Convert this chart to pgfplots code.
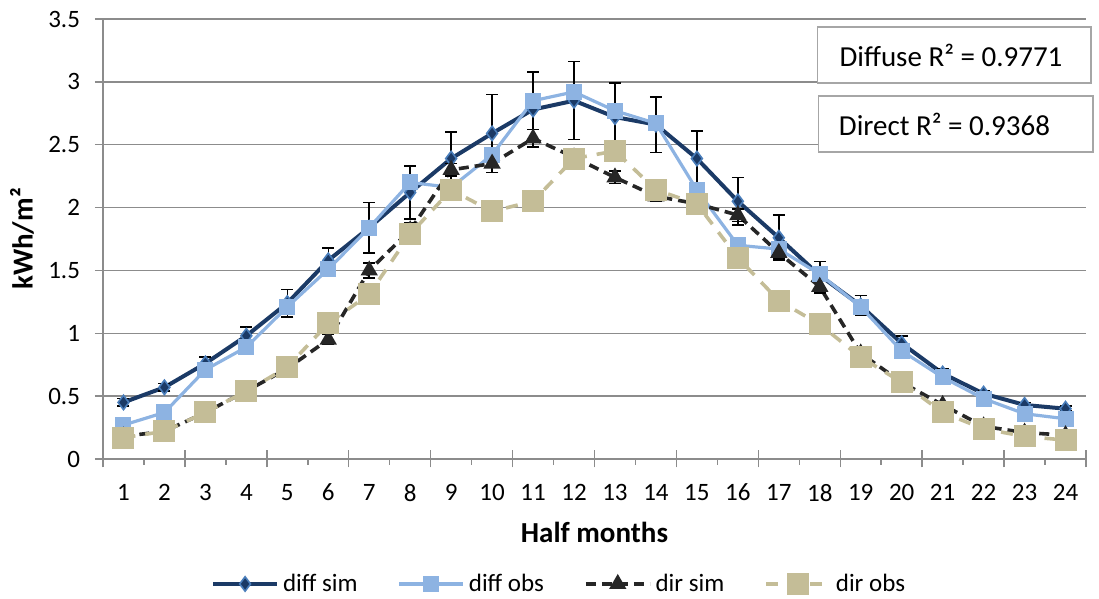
\documentclass[border=0pt]{standalone}
\usepackage{fontspec}
\setmainfont{Carlito}
\usepackage{pgfplots}
\usepackage{pgfplotstable}
\pgfplotsset{compat=1.18}
\definecolor{navy}{HTML}{1B3A66}
\definecolor{navyedge}{HTML}{4A7EBB}
\definecolor{lblue}{HTML}{8DB3E2}
\definecolor{tan}{HTML}{C4BD97}
\definecolor{dk}{HTML}{262626}
\definecolor{gridc}{HTML}{8C8C8C}
\definecolor{boxc}{HTML}{A6A6A6}
\pgfplotstableread{
x diffsim dserr diffobs dirsim drerr dirobs
1 0.45 0.03 0.27 0.18 0.02 0.17
2 0.57 0.03 0.37 0.22 0.02 0.22
3 0.76 0.05 0.71 0.37 0.02 0.37
4 0.98 0.07 0.89 0.54 0.02 0.54
5 1.24 0.11 1.21 0.72 0.03 0.73
6 1.58 0.10 1.51 0.95 0.04 1.08
7 1.84 0.20 1.84 1.50 0.06 1.31
8 2.12 0.21 2.20 1.82 0.06 1.79
9 2.39 0.21 2.16 2.30 0.05 2.14
10 2.59 0.31 2.42 2.35 0.07 1.97
11 2.78 0.30 2.85 2.55 0.07 2.05
12 2.85 0.31 2.92 2.40 0.07 2.39
13 2.72 0.27 2.77 2.24 0.05 2.45
14 2.66 0.22 2.67 2.09 0.04 2.14
15 2.39 0.22 2.14 2.03 0.03 2.03
16 2.05 0.19 1.70 1.94 0.05 1.60
17 1.76 0.18 1.67 1.64 0.05 1.26
18 1.46 0.11 1.47 1.37 0.05 1.07
19 1.22 0.08 1.21 0.84 0.03 0.81
20 0.92 0.06 0.86 0.61 0.03 0.61
21 0.68 0.04 0.65 0.43 0.02 0.37
22 0.52 0.02 0.48 0.26 0.02 0.24
23 0.43 0.02 0.36 0.21 0.01 0.18
24 0.40 0.02 0.32 0.19 0.01 0.15
}\datatable
\begin{document}
\begin{tikzpicture}
\path[use as bounding box] (-51.5pt,-70pt) rectangle (498pt,229.5pt);
\begin{axis}[
  at={(0,0)}, anchor=south west,
  scale only axis, width=491.5pt, height=220pt,
  xmin=0.5, xmax=24.5, ymin=0, ymax=3.5,
  axis x line=bottom, axis y line=left,
  axis line style={gridc, line width=0.75pt, -},
  xtick={1,...,24},
  major x tick style={draw=none},
  extra x ticks={0.5,2.5,...,24.5},
  extra x tick labels={},
  extra x tick style={major tick length=8.5pt, tick align=center, major x tick style={draw=gridc,line width=0.75pt}, grid=none},
  minor xtick={1.5,3.5,...,23.5},
  minor tick length=3pt,
  minor x tick style={gridc, line width=0.75pt},
  ytick={0,0.5,...,3.5},
  major tick length=4pt,
  tick align=outside,
  major y tick style={gridc, line width=0.75pt},
  ymajorgrids, grid style={gridc, line width=0.75pt},
  /pgf/number format/assume math mode=true,
  tick label style={font=\fontsize{12.5}{14}\selectfont, black},
  xticklabel style={yshift=-5pt},
  yticklabel style={xshift=-4pt},
  xlabel={Half months},
  ylabel={kWh/m²},
  label style={font=\bfseries\fontsize{14.5}{16}\selectfont},
  xlabel style={at={(axis description cs:0.5,-0.168)}, anchor=center},
  ylabel style={at={(axis description cs:-0.0824,0.5)}, anchor=center, rotate=0},
  legend style={at={(axis description cs:0.465,-0.284)}, anchor=center, legend columns=4, draw=none, font=\fontsize{12.5}{14}\selectfont, /tikz/every even column/.append style={column sep=18pt}},
  legend image code/.code={\draw[mark repeat=2,mark phase=2] plot coordinates {(0pt,0pt) (16pt,0pt) (32pt,0pt)};},
  error bars/error bar style={black, line width=0.75pt, solid},
  error bars/error mark options={black, line width=0.75pt, mark size=3pt, solid, rotate=90},
  clip=false,
]
\addplot[navy, line width=2pt, mark=diamond*, mark size=3.6pt, mark options={fill=navy, draw=navyedge, line width=0.8pt, solid},
  error bars/.cd, y dir=both, y explicit]
  table[x=x, y=diffsim, y error=dserr] {\datatable};
\addlegendentry{diff sim}
\addplot[lblue, line width=1.6pt, mark=square*, mark size=3.2pt, mark options={fill=lblue, draw=lblue, solid}]
  table[x=x, y=diffobs] {\datatable};
\addlegendentry{diff obs}
\addplot[dk, line width=1.8pt, dash pattern=on 5pt off 3pt, mark=triangle*, mark size=3.2pt, mark options={fill=dk, draw=dk, solid},
  error bars/.cd, y dir=both, y explicit]
  table[x=x, y=dirsim, y error=drerr] {\datatable};
\addlegendentry{dir sim}
\addplot[tan, line width=1.8pt, dash pattern=on 6pt off 5pt, mark=square*, mark size=4.6pt, mark options={fill=tan, draw=tan, solid}]
  table[x=x, y=dirobs] {\datatable};
\addlegendentry{dir obs}
\draw[boxc, line width=0.75pt, fill=white] (axis description cs:0.727,0.855) rectangle (axis description cs:1.005,0.982);
\node[font=\fontsize{14.5}{16}\selectfont, anchor=center] at (axis description cs:0.8627,0.918) {Diffuse R² = 0.9771};
\draw[boxc, line width=0.75pt, fill=white] (axis description cs:0.728,0.698) rectangle (axis description cs:1.007,0.825);
\node[font=\fontsize{14.5}{16}\selectfont, anchor=center] at (axis description cs:0.856,0.761) {Direct R² = 0.9368};
\end{axis}
\end{tikzpicture}
\end{document}
